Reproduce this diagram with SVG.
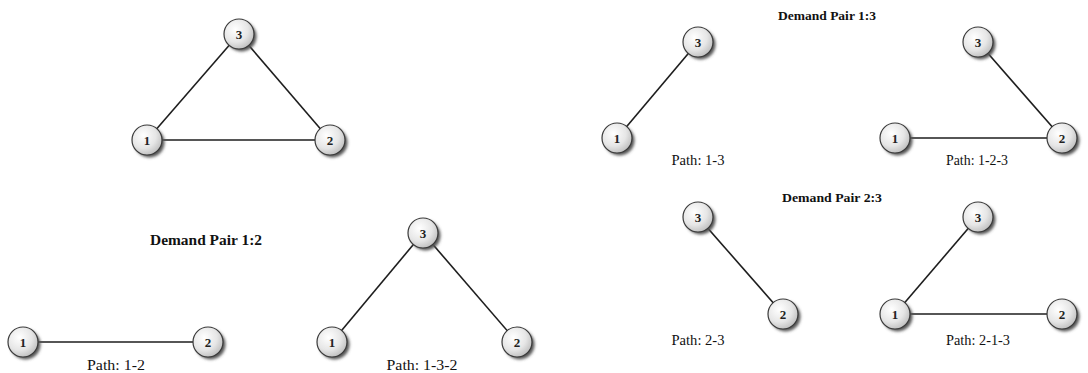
<svg xmlns="http://www.w3.org/2000/svg" width="1088" height="373" viewBox="0 0 1088 373">
<defs>
<radialGradient id="g" cx="0.38" cy="0.35" r="0.7">
<stop offset="0" stop-color="#ffffff"/>
<stop offset="0.6" stop-color="#e6e6e6"/>
<stop offset="1" stop-color="#bdbdbd"/>
</radialGradient>
<filter id="sh" x="-50%" y="-50%" width="200%" height="200%">
<feGaussianBlur stdDeviation="1.5"/>
</filter>
<g id="node">
<circle cx="2.5" cy="2.5" r="15" fill="#555" filter="url(#sh)"/>
<circle cx="0" cy="0" r="15" fill="url(#g)" stroke="#3a3a3a" stroke-width="1.2"/>
</g>
</defs>
<style>
.e{stroke:#1e1e1e;stroke-width:1.6;fill:none}
.n{font-family:"Liberation Serif","DejaVu Serif",serif;font-weight:bold;font-size:13px;fill:#222;text-anchor:middle}
.p{font-family:"Liberation Serif","DejaVu Serif",serif;font-size:14px;fill:#111;text-anchor:middle}
.t{font-family:"Liberation Serif","DejaVu Serif",serif;font-weight:bold;font-size:13.5px;fill:#111;text-anchor:middle}
</style>
<rect width="1088" height="373" fill="#fff"/>
<g id="connectors">
<line class="e" x1="147" y1="140" x2="239" y2="34"/>
<line class="e" x1="239" y1="34" x2="330" y2="140"/>
<line class="e" x1="147" y1="140" x2="330" y2="140"/>
<line class="e" x1="23" y1="342" x2="208" y2="342"/>
<line class="e" x1="332" y1="342" x2="423" y2="233"/>
<line class="e" x1="423" y1="233" x2="517" y2="342"/>
<line class="e" x1="617" y1="138" x2="698" y2="42"/>
<line class="e" x1="895" y1="138" x2="1062" y2="138"/>
<line class="e" x1="978" y1="42" x2="1062" y2="138"/>
<line class="e" x1="698" y1="217" x2="783" y2="314"/>
<line class="e" x1="895" y1="314" x2="978" y2="217"/>
<line class="e" x1="895" y1="314" x2="1062" y2="314"/>
</g>
<g id="full-1"><use href="#node" x="147" y="140"/><text class="n" x="147" y="144.5">1</text></g>
<g id="full-2"><use href="#node" x="330" y="140"/><text class="n" x="330" y="144.5">2</text></g>
<g id="full-3"><use href="#node" x="239" y="34"/><text class="n" x="239" y="38.5">3</text></g>
<g id="p12a-1"><use href="#node" x="23" y="342"/><text class="n" x="23" y="346.5">1</text></g>
<g id="p12a-2"><use href="#node" x="208" y="342"/><text class="n" x="208" y="346.5">2</text></g>
<g id="p12b-1"><use href="#node" x="332" y="342"/><text class="n" x="332" y="346.5">1</text></g>
<g id="p12b-2"><use href="#node" x="517" y="342"/><text class="n" x="517" y="346.5">2</text></g>
<g id="p12b-3"><use href="#node" x="423" y="233"/><text class="n" x="423" y="237.5">3</text></g>
<g id="p13a-1"><use href="#node" x="617" y="138"/><text class="n" x="617" y="142.5">1</text></g>
<g id="p13a-3"><use href="#node" x="698" y="42"/><text class="n" x="698" y="46.5">3</text></g>
<g id="p13b-1"><use href="#node" x="895" y="138"/><text class="n" x="895" y="142.5">1</text></g>
<g id="p13b-2"><use href="#node" x="1062" y="138"/><text class="n" x="1062" y="142.5">2</text></g>
<g id="p13b-3"><use href="#node" x="978" y="42"/><text class="n" x="978" y="46.5">3</text></g>
<g id="p23a-3"><use href="#node" x="698" y="217"/><text class="n" x="698" y="221.5">3</text></g>
<g id="p23a-2"><use href="#node" x="783" y="314"/><text class="n" x="783" y="318.5">2</text></g>
<g id="p23b-1"><use href="#node" x="895" y="314"/><text class="n" x="895" y="318.5">1</text></g>
<g id="p23b-2"><use href="#node" x="1062" y="314"/><text class="n" x="1062" y="318.5">2</text></g>
<g id="p23b-3"><use href="#node" x="978" y="217"/><text class="n" x="978" y="221.5">3</text></g>
<g id="labels">
<text class="t" x="206" y="245" style="font-size:15px" textLength="112" lengthAdjust="spacingAndGlyphs">Demand Pair 1:2</text>
<text class="t" x="827" y="20" textLength="98" lengthAdjust="spacingAndGlyphs">Demand Pair 1:3</text>
<text class="t" x="832" y="202" textLength="100" lengthAdjust="spacingAndGlyphs">Demand Pair 2:3</text>
<text class="p" x="116" y="370" textLength="58" lengthAdjust="spacingAndGlyphs">Path: 1-2</text>
<text class="p" x="422" y="370" textLength="71" lengthAdjust="spacingAndGlyphs">Path: 1-3-2</text>
<text class="p" x="698" y="165" textLength="53" lengthAdjust="spacingAndGlyphs">Path: 1-3</text>
<text class="p" x="977" y="165" textLength="62" lengthAdjust="spacingAndGlyphs">Path: 1-2-3</text>
<text class="p" x="698" y="345" textLength="53" lengthAdjust="spacingAndGlyphs">Path: 2-3</text>
<text class="p" x="978" y="345" textLength="64" lengthAdjust="spacingAndGlyphs">Path: 2-1-3</text>
</g>
</svg>
